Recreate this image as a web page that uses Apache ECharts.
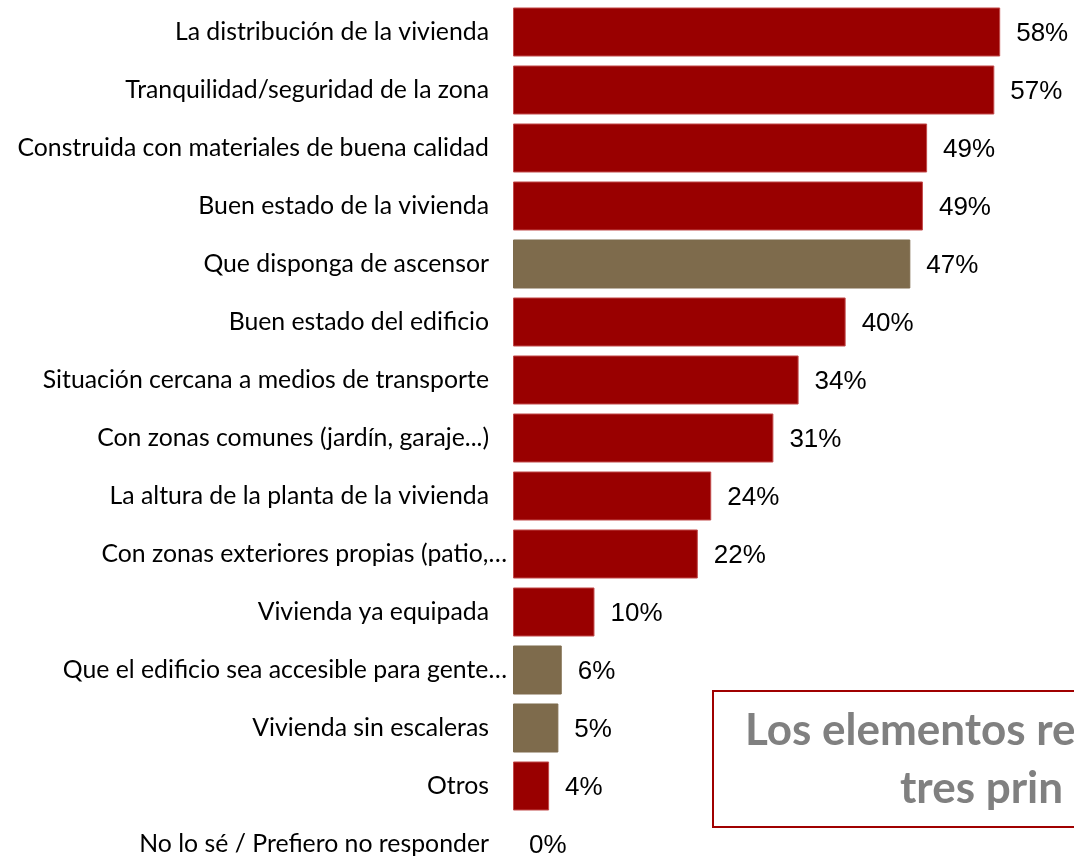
<!DOCTYPE html>
<html>
<head>
<meta charset="utf-8">
<style>
  html, body { margin: 0; padding: 0; background: #fff; }
  #chart { width: 1074px; height: 859px; }
</style>
<script src="https://cdn.jsdelivr.net/npm/echarts@6/dist/echarts.min.js"></script>
</head>
<body>
<div id="chart"></div>
<script>
const categories = [
  'La distribución de la vivienda',
  'Tranquilidad/seguridad de la zona',
  'Construida con materiales de buena calidad',
  'Buen estado de la vivienda',
  'Que disponga de ascensor',
  'Buen estado del edificio',
  'Situación cercana a medios de transporte',
  'Con zonas comunes (jardín, garaje...)',
  'La altura de la planta de la vivienda',
  'Con zonas exteriores propias (patio,…',
  'Vivienda ya equipada',
  'Que el edificio sea accesible para gente…',
  'Vivienda sin escaleras',
  'Otros',
  'No lo sé / Prefiero no responder'
];
const values = [58.0, 57.3, 49.3, 48.8, 47.3, 39.6, 34.0, 31.0, 23.6, 22.0, 9.7, 5.8, 5.4, 4.3, 0];
// rows drawn in the accessibility (brown) colour
const highlighted = [
  'Que disponga de ascensor',
  'Que el edificio sea accesible para gente…',
  'Vivienda sin escaleras'
];
const truncatedLabels = [
  'Con zonas exteriores propias (patio,…',
  'Que el edificio sea accesible para gente…'
];
const noteLines = ['Los elementos re', 'tres prin'];

const RED = '#990000';
const BROWN = '#7e6b4c';
const labelFont = 'Lato';
const labelSize = 24.8;

const chart = echarts.init(document.getElementById('chart'));

const option = {
  animation: false,
  grid: {
    left: 513,
    top: 3,
    width: 504,
    height: 870,
    containLabel: false,
    outerBoundsMode: 'none'
  },
  xAxis: {
    type: 'value',
    min: 0,
    max: 60,
    show: false
  },
  yAxis: {
    type: 'category',
    data: categories,
    inverse: true,
    axisLine: { show: false },
    axisTick: { show: false },
    axisLabel: {
      margin: 6,
      color: '#000',
      fontFamily: labelFont,
      fontSize: labelSize,
      formatter: (v) => (truncatedLabels.includes(v) ? '{t|' + v + '}' : '{n|' + v + '}'),
      rich: {
        n: { fontFamily: labelFont, fontSize: labelSize, color: '#000', padding: [0, 18, 0, 0] },
        t: { fontFamily: labelFont, fontSize: labelSize, color: '#000' }
      }
    }
  },
  series: [
    {
      type: 'bar',
      barCategoryGap: '15.5%',
      data: values.map((v, i) => ({
        value: v,
        itemStyle: {
          color: highlighted.includes(categories[i]) ? BROWN : RED,
          borderColor: highlighted.includes(categories[i]) ? BROWN : '#c24a4a',
          borderWidth: v > 0 ? 1 : 0
        }
      })),
      label: {
        show: true,
        position: 'right',
        distance: 16,
        offset: [0, 2],
        color: '#000',
        fontFamily: 'Liberation Sans',
        fontWeight: 'normal',
        fontSize: 26,
        formatter: (p) => Math.round(p.value) + '%'
      }
    }
  ],
  graphic: [
    {
      type: 'rect',
      shape: { x: 713, y: 691, width: 500, height: 136 },
      style: { fill: '#fff', stroke: '#a00000', lineWidth: 2 },
      z: 10
    },
    {
      type: 'text',
      x: 745,
      y: 731,
      style: {
        text: noteLines[0],
        font: 'bold 44px Lato',
        fill: '#808080',
        verticalAlign: 'middle'
      },
      z: 11
    },
    {
      type: 'text',
      x: 900,
      y: 789,
      style: {
        text: noteLines[1],
        font: 'bold 44px Lato',
        fill: '#808080',
        verticalAlign: 'middle'
      },
      z: 11
    }
  ]
};

chart.setOption(option);
window.addEventListener('resize', () => chart.resize());
</script>
</body>
</html>
